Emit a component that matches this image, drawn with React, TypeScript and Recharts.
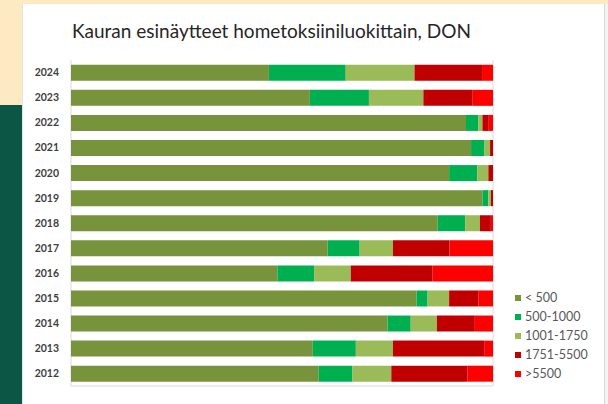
import React from "react";
import { BarChart, Bar, XAxis, YAxis, CartesianGrid } from "recharts";

const years = ["2024", "2023", "2022", "2021", "2020", "2019", "2018", "2017", "2016", "2015", "2014", "2013", "2012"];
const lt500 = [46.9, 56.6, 93.6, 94.8, 89.6, 97.5, 86.9, 60.8, 48.9, 81.9, 75.0, 57.3, 58.7];
const s500_1000 = [18.2, 14.0, 2.9, 3.2, 6.7, 1.4, 6.5, 7.6, 8.7, 2.6, 5.5, 10.2, 8.0];
const s1001_1750 = [16.3, 12.9, 1.0, 1.3, 2.6, 0.6, 3.5, 7.9, 8.7, 5.1, 6.2, 8.8, 9.2];
const s1751_5500 = [16.0, 11.7, 1.5, 0.7, 1.1, 0.5, 2.6, 13.4, 19.4, 7.0, 9.0, 21.6, 18.0];
const gt5500 = [2.6, 4.8, 1.0, 0.0, 0.0, 0.0, 0.5, 10.3, 14.3, 3.4, 4.3, 2.1, 6.1];
const xTicks = [0, 10, 20, 30, 40, 50, 60, 70, 80, 90, 100];

const seriesNames = ["< 500", "500-1000", "1001-1750", "1751-5500", ">5500"];
const seriesKeys = ["a", "b", "c", "d", "e"];
const seriesColors = ["#77933c", "#00b050", "#9bbb59", "#c00000", "#ff0000"];
const seriesValues = [lt500, s500_1000, s1001_1750, s1751_5500, gt5500];

const data = years.map((y, i) => {
  const row: Record<string, string | number> = { year: y };
  seriesKeys.forEach((k, j) => {
    row[k] = seriesValues[j][i];
  });
  return row;
});

const FONT = "Lato, 'Open Sans', sans-serif";

export default function App() {
  return (
    <div style={{ position: "absolute", left: 0, top: 0, width: 608, height: 404, overflow: "hidden", background: "#fdeac3" }}>
      <div style={{ position: "absolute", left: 0, top: 105, width: 22, height: 299, background: "#0b5645" }} />
      <div style={{ position: "absolute", left: 22, top: 4, width: 582, height: 400, background: "#ffffff", borderLeft: "1px solid #e4e4e4" }} />
      <div style={{ position: "absolute", left: 604, top: 4, width: 4, height: 400, background: "#f3f3f3", borderLeft: "1px solid #d8d8d8" }} />
      <div
        style={{
          position: "absolute",
          left: 72,
          top: 19,
          fontFamily: FONT,
          fontSize: 19,
          color: "#262626",
          whiteSpace: "nowrap",
          lineHeight: "24px",
        }}
      >
        Kauran esinäytteet hometoksiiniluokittain, DON
      </div>
      <div style={{ position: "absolute", left: 0, top: 0 }}>
        <BarChart
          width={608}
          height={404}
          data={data}
          layout="vertical"
          margin={{ top: 60, right: 115, bottom: 16, left: 23 }}
          barCategoryGap="19%"
        >
          <CartesianGrid horizontal={false} stroke="#d9d9d9" />
          <XAxis
            type="number"
            domain={[0, 100]}
            ticks={xTicks}
            tick={false}
            tickLine={false}
            axisLine={{ stroke: "#d9d9d9" }}
            height={2}
          />
          <YAxis
            type="category"
            dataKey="year"
            width={48}
            axisLine={false}
            tickLine={false}
            tickMargin={6}
            tick={{ fontFamily: FONT, fontSize: 10.5, fontWeight: 700, fill: "#404040" }}
          />
          {seriesKeys.map((k, i) => (
            <Bar key={k} dataKey={k} name={seriesNames[i]} stackId="s" fill={seriesColors[i]} isAnimationActive={false} />
          ))}
        </BarChart>
      </div>
      <div style={{ position: "absolute", left: 515, top: 288, fontFamily: FONT }}>
        {seriesNames.map((n, i) => (
          <div key={n} style={{ display: "flex", alignItems: "center", height: 19 }}>
            <div style={{ width: 6, height: 6, background: seriesColors[i], marginRight: 4 }} />
            <span style={{ fontSize: 12.5, color: "#595959" }}>{n}</span>
          </div>
        ))}
      </div>
    </div>
  );
}
